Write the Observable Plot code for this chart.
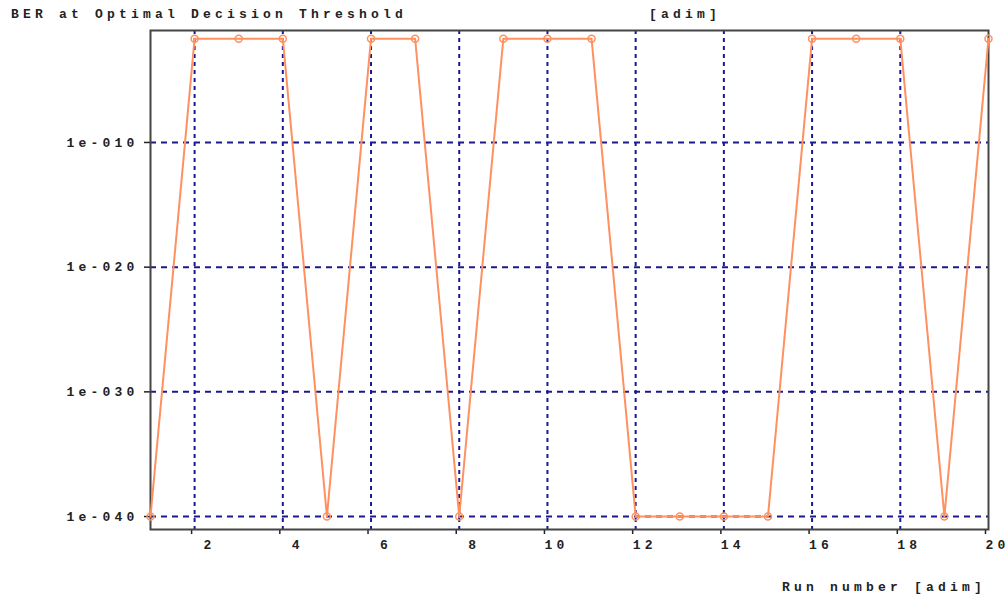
<!DOCTYPE html>
<html>
<head>
<meta charset="utf-8">
<script src="https://cdn.jsdelivr.net/npm/d3@7"></script>
<script src="https://cdn.jsdelivr.net/npm/@observablehq/plot@0.6"></script>
<style>
  html, body { margin: 0; padding: 0; background: white; }
  #wrap { position: relative; width: 1007px; height: 596px; overflow: hidden; }
  .lbl { position: absolute; font-family: "Liberation Mono", "DejaVu Sans Mono", monospace; font-weight: bold; font-size: 13px; letter-spacing: 4.2px; color: #222; white-space: pre; line-height: 13px; }
</style>
</head>
<body>
<div id="wrap">
  <div id="chart"></div>
  <div class="lbl" style="left:11px; top:8px;">BER at Optimal Decision Threshold</div>
  <div class="lbl" style="left:649px; top:8px;">[adim]</div>
  <div class="lbl" style="left:782px; top:581px;">Run number [adim]</div>
</div>
<script>
const runs = [1, 2, 3, 4, 5, 6, 7, 8, 9, 10, 11, 12, 13, 14, 15, 16, 17, 18, 19, 20];
const ber = [1e-40, 0.021, 0.021, 0.021, 1e-40, 0.021, 0.021, 1e-40, 0.021, 0.021,
             0.021, 1e-40, 1e-40, 1e-40, 1e-40, 0.021, 0.021, 0.021, 1e-40, 0.021];
const xTicks = [2, 4, 6, 8, 10, 12, 14, 16, 18, 20];
const xGrid = [2, 4, 6, 8, 10, 12, 14, 16, 18];
const yTicks = [1e-10, 1e-20, 1e-30, 1e-40];

const data = runs.map((r, i) => ({run: r, ber: ber[i]}));
const fmtY = d => "1e-" + String(-Math.round(Math.log10(d))).padStart(3, "0");
const gridColor = "#1a1a8c";
const lineColor = "#ff9160";

const chart = Plot.plot({
  width: 1007,
  height: 596,
  marginLeft: 150,
  marginRight: 19,
  marginTop: 30,
  marginBottom: 67,
  style: {fontFamily: "'Liberation Mono', monospace", fontSize: "13px", fontWeight: "bold", letterSpacing: "4.2px", background: "white", color: "#222"},
  x: {domain: [1, 20]},
  y: {type: "log", domain: [Math.pow(10, -41.04), Math.pow(10, -1.02)]},
  marks: [
    Plot.ruleX(xGrid, {stroke: gridColor, strokeWidth: 2, strokeDasharray: "4,4"}),
    Plot.ruleY(yTicks, {stroke: gridColor, strokeWidth: 2, strokeDasharray: "6,5"}),
    Plot.axisX({ticks: xTicks, tickSize: 5, tickPadding: 5, label: null, strokeWidth: 1.5,
                tickFormat: d => String(d).padStart(2, "\u00a0"), textAnchor: "start", dx: -3}),
    Plot.axisY({ticks: yTicks, tickSize: 6, tickPadding: 6, label: null, strokeWidth: 1.5, tickFormat: fmtY}),
    Plot.frame({stroke: "#444", strokeWidth: 2}),
    Plot.line(data, {x: "run", y: "ber", stroke: lineColor, strokeWidth: 2}),
    Plot.dot(data, {x: "run", y: "ber", r: 3.5, stroke: lineColor, strokeWidth: 1.5, fill: "none"})
  ]
});
document.getElementById("chart").appendChild(chart);
</script>
</body>
</html>
